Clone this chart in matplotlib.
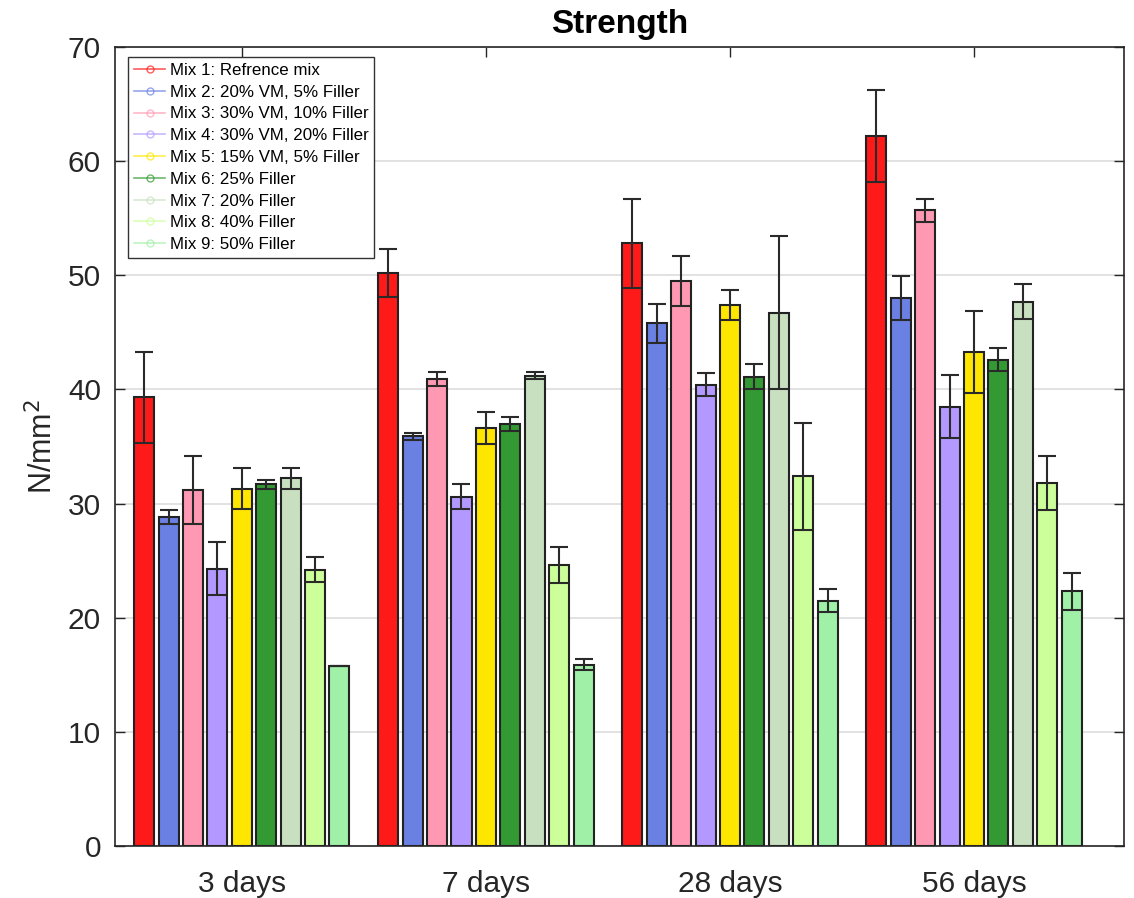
import matplotlib.pyplot as plt
from matplotlib.lines import Line2D
import numpy as np

plt.rcParams['font.family'] = ['Liberation Sans', 'DejaVu Sans']

groups = ['3 days', '7 days', '28 days', '56 days']
mixes = ['Mix 1: Refrence mix', 'Mix 2: 20% VM, 5% Filler', 'Mix 3: 30% VM, 10% Filler',
         'Mix 4: 30% VM, 20% Filler', 'Mix 5: 15% VM, 5% Filler', 'Mix 6: 25% Filler',
         'Mix 7: 20% Filler', 'Mix 8: 40% Filler', 'Mix 9: 50% Filler']
colors = ['#ff1a1a', '#6a80e3', '#ff99b3', '#b399ff', '#ffe600',
          '#339933', '#c8e0c0', '#ccff99', '#a0f0a8']

# mean strength per mix (rows) for each age (columns)
strength = [
    [39.3, 50.2, 52.8, 62.2],
    [28.8, 35.9, 45.8, 48.0],
    [31.2, 40.9, 49.5, 55.7],
    [24.3, 30.6, 40.4, 38.5],
    [31.3, 36.6, 47.4, 43.3],
    [31.7, 37.0, 41.1, 42.6],
    [32.2, 41.2, 46.7, 47.7],
    [24.2, 24.6, 32.4, 31.8],
    [15.8, 15.9, 21.5, 22.3],
]
# standard deviation
errors = [
    [4.0, 2.1, 3.9, 4.0],
    [0.6, 0.3, 1.7, 1.9],
    [3.0, 0.6, 2.2, 1.0],
    [2.3, 1.1, 1.0, 2.8],
    [1.8, 1.4, 1.3, 3.6],
    [0.4, 0.6, 1.1, 1.0],
    [0.9, 0.3, 6.7, 1.5],
    [1.1, 1.6, 4.7, 2.4],
    [0.0, 0.5, 1.0, 1.6],
]

fig = plt.figure(figsize=(11.34, 8.98), dpi=100)
ax = fig.add_axes([0.1014, 0.0579, 0.8898, 0.8898])

x = np.arange(1, len(groups) + 1)
pitch = 0.1
width = 0.082
for i in range(len(mixes)):
    pos = x + (i - 4) * pitch
    ax.bar(pos, strength[i], width, color=colors[i], edgecolor='#222222',
           linewidth=1.5, zorder=2)
    ax.errorbar(pos, strength[i], yerr=errors[i], fmt='none', ecolor='#2a2a2a',
                elinewidth=1.5, capsize=6.8, capthick=1.5, zorder=3)

ax.set_xlim(0.48, 4.615)
ax.set_ylim(0, 70)
ax.set_xticks(x)
ax.set_xticklabels(groups)
ax.set_yticks(np.arange(0, 71, 10))
ax.tick_params(direction='in', top=True, right=True, length=7, width=1,
               labelsize=21.5, colors='#262626', pad=10)
ax.tick_params(axis='x', pad=17)
ax.yaxis.grid(True, color='#dddddd', linewidth=1.2, zorder=0)
ax.set_axisbelow(True)
for s in ax.spines.values():
    s.set_color('#262626')
    s.set_linewidth(1.2)

ax.set_ylabel('N/mm$^2$', fontsize=22, color='#262626', labelpad=6)
ax.set_title('Strength', fontsize=24, fontweight='bold', pad=10)

handles = [Line2D([0], [0], color=c, marker='o', markerfacecolor='none',
                  markersize=5, linewidth=1.2, alpha=0.7) for c in colors]
leg = ax.legend(handles, mixes, loc='upper left', fontsize=12.2, fancybox=False,
                edgecolor='#333333', framealpha=1, handlelength=1.85,
                handletextpad=0.25, labelspacing=0.4, borderpad=0.35,
                borderaxespad=0, bbox_to_anchor=(0.013, 0.9875))
leg.get_frame().set_linewidth(1.0)

fig.savefig('out.png', dpi=100)
